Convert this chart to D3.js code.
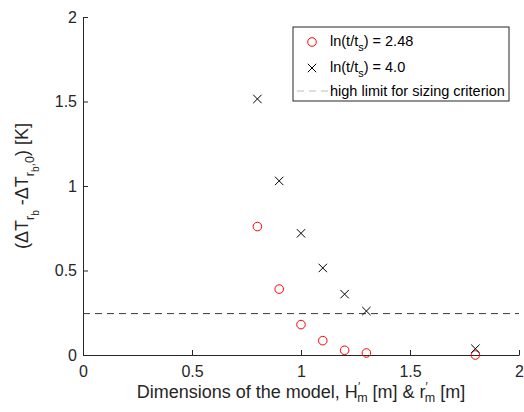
<!DOCTYPE html>
<html>
<head>
<meta charset="utf-8">
<script src="https://cdn.jsdelivr.net/npm/d3@7"></script>
<style>
  body { margin: 0; background: #fff; }
  svg { font-family: 'Liberation Sans', Arial, sans-serif; }
</style>
</head>
<body>
<div id="chart"></div>
<script>
// data
var dims = [0.8, 0.9, 1.0, 1.1, 1.2, 1.3, 1.8]
var dT248 = [0.76, 0.39, 0.18, 0.085, 0.028, 0.012, 0.0]
var dT40 = [1.515, 1.03, 0.72, 0.515, 0.36, 0.26, 0.037]
var highLimit = 0.245
var xTicks = [0, 0.5, 1, 1.5, 2]
var yTicks = [0, 0.5, 1, 1.5, 2]

var margin = { top: 17, left: 83, right: 5, bottom: 57 }
var totalW = 524
var totalH = 412
var width = totalW - margin.left - margin.right
var height = totalH - margin.top - margin.bottom

var axisColor = '#262626'

var svg = d3.select('#chart')
  .append('svg')
  .attr('width', totalW)
  .attr('height', totalH)

var g = svg.append('g')
  .attr('transform', 'translate(' + margin.left + ',' + margin.top + ')')

var xPositionScale = d3.scaleLinear().domain([0, 2]).range([0, width])
var yPositionScale = d3.scaleLinear().domain([0, 2]).range([height, 0])

// axes, ticks pointing inward like matlab
var xAxis = d3.axisBottom(xPositionScale)
  .tickValues(xTicks)
  .tickFormat(d3.format('~g'))
  .tickSizeInner(-5)
  .tickSizeOuter(0)
  .tickPadding(11)
var yAxis = d3.axisLeft(yPositionScale)
  .tickValues(yTicks)
  .tickFormat(d3.format('~g'))
  .tickSizeInner(-5)
  .tickSizeOuter(0)
  .tickPadding(6)

var gx = g.append('g')
  .attr('class', 'axis x-axis')
  .attr('transform', 'translate(0,' + height + ')')
  .call(xAxis)
var gy = g.append('g')
  .attr('class', 'axis y-axis')
  .call(yAxis)

g.selectAll('.axis path, .axis line').attr('stroke', axisColor)
g.selectAll('.axis text')
  .attr('fill', axisColor)
  .attr('font-size', 16)
  .attr('font-family', "'Liberation Sans', Arial, sans-serif")

// dashed limit line
g.append('line')
  .attr('x1', xPositionScale(0))
  .attr('x2', xPositionScale(2))
  .attr('y1', yPositionScale(highLimit))
  .attr('y2', yPositionScale(highLimit))
  .attr('stroke', '#3a3a3a')
  .attr('stroke-width', 1)
  .attr('stroke-dasharray', '7,5')

// circles
g.selectAll('.c248')
  .data(dims)
  .enter()
  .append('circle')
  .attr('class', 'c248')
  .attr('cx', function(d) { return xPositionScale(d) })
  .attr('cy', function(d, i) { return yPositionScale(dT248[i]) })
  .attr('r', 4.3)
  .attr('fill', 'none')
  .attr('stroke', '#ff0000')
  .attr('stroke-width', 1)

// crosses, drawn as two strokes
var xs = 4.2
function crossPath(cx, cy) {
  return 'M' + (cx - xs) + ',' + (cy - xs) + 'L' + (cx + xs) + ',' + (cy + xs) +
    'M' + (cx - xs) + ',' + (cy + xs) + 'L' + (cx + xs) + ',' + (cy - xs)
}
g.selectAll('.x40')
  .data(dims)
  .enter()
  .append('path')
  .attr('class', 'x40')
  .attr('d', function(d, i) {
    return crossPath(xPositionScale(d), yPositionScale(dT40[i]))
  })
  .attr('stroke', '#000')
  .attr('stroke-width', 1)
  .attr('fill', 'none')

// x label
var xl = svg.append('text')
  .attr('x', margin.left + width / 2)
  .attr('y', 398)
  .attr('text-anchor', 'middle')
  .attr('font-size', 18)
  .attr('fill', axisColor)
xl.append('tspan').text('Dimensions of the model, H')
xl.append('tspan').attr('font-size', 12).attr('dy', -7).text('′')
xl.append('tspan').attr('font-size', 12.5).attr('dy', 11).attr('dx', -3).text('m')
xl.append('tspan').attr('dy', -4).text(' [m] & r')
xl.append('tspan').attr('font-size', 12).attr('dy', -7).text('′')
xl.append('tspan').attr('font-size', 12.5).attr('dy', 11).attr('dx', -3).text('m')
xl.append('tspan').attr('dy', -4).text(' [m]')

// y label
var yl = svg.append('text')
  .attr('transform', 'translate(28,' + (margin.top + height / 2) + ') rotate(-90)')
  .attr('text-anchor', 'middle')
  .attr('font-size', 18)
  .attr('fill', axisColor)
yl.append('tspan').text('(ΔT')
yl.append('tspan').attr('font-size', 12.5).attr('dy', 6).text('r')
yl.append('tspan').attr('font-size', 10).attr('dy', 5).text('b')
yl.append('tspan').attr('dy', -11).text(' -ΔT')
yl.append('tspan').attr('font-size', 12.5).attr('dy', 6).text('r')
yl.append('tspan').attr('font-size', 10).attr('dy', 5).text('b')
yl.append('tspan').attr('font-size', 12.5).attr('dy', -5).text(',0')
yl.append('tspan').attr('dy', -6).text(') [K]')

// legend
var legend = svg.append('g').attr('transform', 'translate(293,27)')
legend.append('rect')
  .attr('width', 216)
  .attr('height', 74)
  .attr('fill', '#fff')
  .attr('stroke', axisColor)
  .attr('stroke-width', 1)

legend.append('circle')
  .attr('cx', 19).attr('cy', 15).attr('r', 4.3)
  .attr('fill', 'none').attr('stroke', '#ff0000')
legend.append('path')
  .attr('d', crossPath(19, 41))
  .attr('stroke', '#000').attr('fill', 'none')
legend.append('line')
  .attr('x1', 4).attr('x2', 35).attr('y1', 64).attr('y2', 64)
  .attr('stroke', '#bdbdbd').attr('stroke-dasharray', '7,5')

function lnLabel(y, val) {
  var t = legend.append('text')
    .attr('x', 37).attr('y', y)
    .attr('font-size', 14.5).attr('fill', '#000')
  t.append('tspan').text('ln(t/t')
  t.append('tspan').attr('font-size', 11).attr('dy', 5).text('s')
  t.append('tspan').attr('dy', -5).text(') = ' + val)
}
lnLabel(19, '2.48')
lnLabel(45, '4.0')
legend.append('text')
  .attr('x', 37).attr('y', 69)
  .attr('font-size', 14.5).attr('fill', '#000')
  .text('high limit for sizing criterion')
</script>
</body>
</html>
